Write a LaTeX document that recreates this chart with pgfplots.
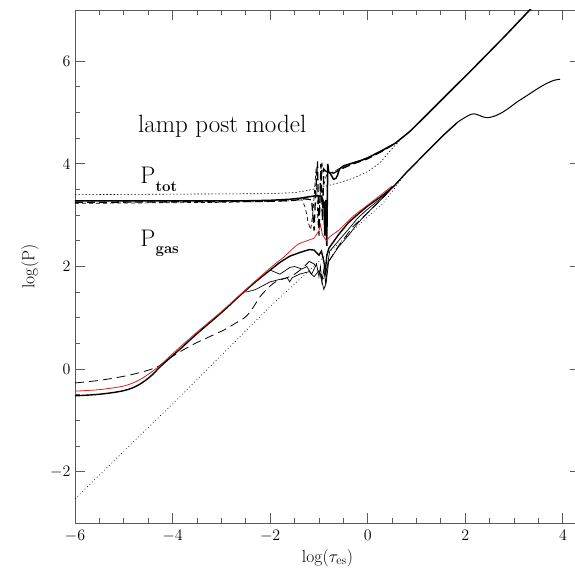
\RequirePackage{fix-cm}
\documentclass[border=0pt]{standalone}
\usepackage{pgfplots}
\pgfplotsset{compat=1.18}
\definecolor{myred}{RGB}{215,35,35}
\begin{document}
\begin{tikzpicture}
\begin{axis}[
  scale only axis, width=505pt, height=513pt,
  xmin=-6, xmax=4.35, ymin=-3, ymax=7,
  xtick={-6,-4,-2,0,2,4}, ytick={-2,0,2,4,6},
  minor x tick num=3, minor y tick num=3,
  major tick length=10pt, minor tick length=5pt,
  tick align=inside,
  axis line style={black!65, line width=0.9pt},
  every tick/.style={black!65, line width=0.9pt},
  tick label style={font=\fontsize{16}{18}\selectfont},
  xticklabel style={yshift=-4pt},
  yticklabel style={xshift=-1pt},
  xlabel={$\log(\tau_{\rm es})$},
  ylabel={$\log({\rm P})$},
  xlabel style={at={(axis description cs:0.5,-0.068)}, anchor=center, font=\fontsize{17.5}{20}\selectfont},
  ylabel style={at={(axis description cs:-0.089,0.5)}, anchor=center, rotate=0, font=\fontsize{17.5}{20}\selectfont},
  clip=true,
]
% ---------- dotted reference curves ----------
\addplot[black, line width=0.6pt, dash pattern=on 0.8pt off 2.6pt] coordinates {
(-6,-2.53) (-5,-1.6) (-4,-0.68) (-3,0.27) (-2,1.22) (-1.5,1.66) (-1,2.1) (-0.5,2.53) (0,2.97) (0.3,3.22) (0.55,3.52) (0.75,3.79)};
\addplot[black, line width=0.6pt, dash pattern=on 1.5pt off 2pt] coordinates {
(-6,3.40) (-4,3.41) (-2,3.42) (-1.5,3.44) (-1.25,3.48) (-1.0,3.53) (-0.6,3.63) (-0.3,3.72) (0,3.85) (0.25,4.02) (0.5,4.3) (0.65,4.45)};
% ---------- P_tot curves ----------
\addplot[black, line width=1.5pt] coordinates {
(-6,3.28) (-4,3.28) (-2.5,3.28) (-2,3.29) (-1.6,3.31) (-1.4,3.33) (-1.2,3.36) (-1.05,3.38) (-0.95,3.37) (-0.9,3.25) (-0.88,2.6) (-0.86,3.3) (-0.84,2.4) (-0.82,4.0) (-0.80,3.85) (-0.76,3.8) (-0.7,3.7) (-0.65,3.72) (-0.62,3.78) (-0.58,3.9) (-0.5,3.96) (-0.3,4.02) (-0.1,4.08) (0,4.12) (0.25,4.24) (0.56,4.4) (0.86,4.63) (1.17,4.92) (1.6,5.33) (2.16,5.86) (2.8,6.48) (3.36,7.04) (3.45,7.13)};
\addplot[black, line width=1.3pt, dash pattern=on 8pt off 4pt] coordinates {
(-6,3.25) (-4,3.26) (-2,3.27) (-1.5,3.29) (-1.3,3.32) (-1.15,3.3) (-1.1,2.7) (-1.07,3.4) (-1.03,4.05) (-1.0,2.6) (-0.96,4.0) (-0.93,2.9) (-0.9,3.9) (-0.85,3.85) (-0.7,3.82) (-0.5,3.92) (-0.3,4.0) (0,4.1) (0.3,4.25) (0.6,4.42)};
\addplot[black, line width=0.7pt, dash pattern=on 4pt off 3pt] coordinates {
(-6,3.23) (-3,3.25) (-1.6,3.28) (-1.35,3.3) (-1.28,3.15) (-1.22,2.85) (-1.17,2.72) (-1.13,3.0) (-1.1,3.35) (-1.06,3.9) (-1.02,2.8) (-0.98,3.3) (-0.94,4.05) (-0.9,3.6) (-0.84,3.8) (-0.7,3.85) (-0.5,3.95) (-0.2,4.05) (0.2,4.2) (0.5,4.36)};
% ---------- P_gas curves ----------
\addplot[black, line width=1.4pt, smooth, tension=0.6] coordinates {
(-6,-0.52) (-5.5,-0.49) (-5.0,-0.42) (-4.7,-0.31) (-4.45,-0.14) (-4.25,0.05) (-4.05,0.22) (-3.8,0.43) (-3.5,0.69) (-3.0,1.1) (-2.6,1.45) (-2.3,1.7) (-2.0,1.93) (-1.8,2.08)};
\addplot[black, line width=1.4pt] coordinates {
(-1.8,2.08) (-1.6,2.2) (-1.4,2.27) (-1.2,2.33) (-1.1,2.32) (-1.0,2.22) (-0.95,2.3) (-0.9,2.1) (-0.87,1.9) (-0.84,2.2) (-0.8,2.35) (-0.6,2.62) (-0.4,2.85) (-0.2,3.02) (0,3.18) (0.3,3.38) (0.55,3.58) (0.8,3.84) (1.07,4.1) (1.54,4.55) (1.85,4.82)};
\addplot[black, line width=1.0pt, smooth, tension=0.6] coordinates {
(1.85,4.82) (2.13,4.97) (2.3,4.94) (2.44,4.9) (2.65,4.95) (2.85,5.06) (3.05,5.2) (3.26,5.33) (3.47,5.46) (3.67,5.57) (3.82,5.63) (3.94,5.65)};
\addplot[black, line width=0.7pt] coordinates {
(-2.0,1.93) (-1.8,1.85) (-1.6,1.98) (-1.5,2.0) (-1.35,1.95) (-1.25,2.0) (-1.15,1.85) (-1.05,2.05) (-1.0,1.8) (-0.97,2.0) (-0.94,1.7) (-0.9,1.95) (-0.86,1.65) (-0.83,2.0) (-0.78,2.3) (-0.6,2.5) (-0.4,2.72) (-0.2,2.95) (0,3.12) (0.3,3.35) (0.55,3.58)};
\addplot[black, line width=0.7pt] coordinates {
(-2.5,1.5) (-2.3,1.55) (-2.0,1.7) (-1.8,1.75) (-1.65,1.78) (-1.6,1.7) (-1.55,1.78) (-1.4,1.85) (-1.2,1.9) (-1.1,1.8) (-1.0,1.92) (-0.95,1.75) (-0.9,1.55) (-0.85,1.7) (-0.8,2.1) (-0.6,2.38) (-0.4,2.6) (-0.2,2.85) (0,3.05) (0.3,3.33) (0.55,3.58)};
\addplot[black, line width=0.8pt, dash pattern=on 9pt off 5pt, smooth, tension=0.5] coordinates {
(-6,-0.27) (-5.5,-0.22) (-5,-0.14) (-4.6,-0.05) (-4.3,0.05) (-4.0,0.25) (-3.6,0.47) (-3.2,0.65) (-2.93,0.77) (-2.7,0.9) (-2.5,1.02) (-2.35,1.2) (-2.2,1.42) (-2.0,1.62) (-1.87,1.71) (-1.66,1.78) (-1.5,1.85) (-1.3,2.0) (-1.2,2.1)};
\addplot[black, line width=0.8pt, dash pattern=on 9pt off 5pt] coordinates {
(-1.2,2.1) (-1.1,2.05) (-1.0,1.9) (-0.9,1.75) (-0.8,2.1) (-0.6,2.4) (-0.3,2.78) (0,3.05) (0.3,3.33) (0.55,3.58)};
\addplot[myred, line width=0.8pt, smooth, tension=0.5] coordinates {
(-6,-0.43) (-5.5,-0.4) (-5,-0.33) (-4.7,-0.22) (-4.45,-0.07) (-4.25,0.08) (-4,0.3) (-3.5,0.72) (-3,1.12) (-2.5,1.55) (-2,1.97) (-1.7,2.2) (-1.45,2.42) (-1.25,2.5) (-1.1,2.55)};
\addplot[myred, line width=0.8pt] coordinates {
(-1.1,2.55) (-1.0,2.7) (-0.97,2.82) (-0.93,2.62) (-0.9,2.58) (-0.85,2.5) (-0.78,2.58) (-0.6,2.7) (-0.43,2.86) (-0.3,2.98) (0,3.2) (0.3,3.42) (0.5,3.57)};
% ---------- labels ----------
\node[anchor=base west, font=\fontsize{25}{30}\selectfont] at (axis cs:-4.78,4.62) {lamp post model};
\node[anchor=base west, font=\fontsize{24}{28}\selectfont] at (axis cs:-4.73,3.61) {P\raisebox{-0.3em}{\fontsize{15}{17}\selectfont\bfseries tot}};
\node[anchor=base west, font=\fontsize{24}{28}\selectfont] at (axis cs:-4.73,2.39) {P\raisebox{-0.3em}{\fontsize{15}{17}\selectfont\bfseries gas}};
\end{axis}
\pgfresetboundingbox
\path[use as bounding box] ([xshift=-75pt,yshift=10pt]current axis.north west) rectangle ([xshift=-5pt,yshift=-47pt]current axis.south east);
\end{tikzpicture}
\end{document}
